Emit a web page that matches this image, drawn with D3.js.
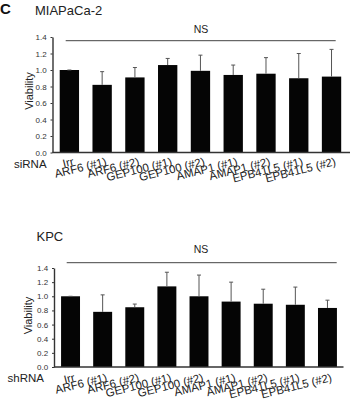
<!DOCTYPE html>
<html>
<head>
<meta charset="utf-8">
<script src="https://cdn.jsdelivr.net/npm/d3@7"></script>
<style>
  body { margin: 0; background: #fff; }
  svg { display: block; font-family: "Liberation Sans", Arial, sans-serif; }
</style>
</head>
<body>
<svg width="350" height="419"></svg>
<script>
const categories = ["Irr", "ARF6 (#1)", "ARF6 (#2)", "GEP100 (#1)", "GEP100 (#2)",
                    "AMAP1 (#1)", "AMAP1 (#2)", "EPB41L5 (#1)", "EPB41L5 (#2)"]
const yTicks = [0, 0.2, 0.4, 0.6, 0.8, 1.0, 1.2, 1.4]

// MIAPaCa-2 (siRNA)
const miaMean = [1.00, 0.82, 0.91, 1.06, 0.99, 0.94, 0.955, 0.90, 0.92]
const miaErr  = [0.00, 0.16, 0.12, 0.08, 0.19, 0.12, 0.195, 0.30, 0.33]
// KPC (shRNA)
const kpcMean = [1.00, 0.78, 0.845, 1.14, 1.00, 0.925, 0.895, 0.88, 0.835]
const kpcErr  = [0.00, 0.24, 0.045, 0.20, 0.30, 0.275, 0.205, 0.25, 0.11]

const svg = d3.select("svg")

// panel letter
svg.append("text").attr("x", 0).attr("y", 14)
   .attr("font-size", 15).attr("font-weight", "bold").attr("fill", "#111").text("C")

function panel(opt){
    const g = svg.append("g")
    const x = d3.scaleBand().domain(categories).range([opt.left, opt.right])
                .paddingInner(0.41).paddingOuter(0.22)
    const y = d3.scaleLinear().domain([0, 1.4]).range([opt.bottom, opt.top])

    g.append("text").attr("x", opt.titleX).attr("y", opt.titleY)
     .attr("font-size", 13).attr("fill", "#222").text(opt.title)

    // bars
    g.append("g").selectAll("rect").data(opt.mean).enter().append("rect")
     .attr("x", (d, i) => x(categories[i]))
     .attr("width", x.bandwidth())
     .attr("y", d => y(d))
     .attr("height", d => y(0) - y(d))
     .attr("fill", "#050505")

    // error bars, upper half only
    const eb = g.append("g").attr("stroke", "#555").attr("stroke-width", 1)
    opt.mean.forEach(function(m, i){
        const cx = x(categories[i]) + x.bandwidth() / 2
        const top = y(m + opt.err[i])
        eb.append("line").attr("x1", cx).attr("x2", cx).attr("y1", y(m)).attr("y2", top)
        eb.append("line").attr("x1", cx - 2).attr("x2", cx + 2).attr("y1", top).attr("y2", top)
    })

    const ya = g.append("g").attr("transform", "translate(" + opt.left + ",0)")
                .call(d3.axisLeft(y).tickValues(yTicks).tickFormat(d3.format(".1f")).tickSize(2).tickSizeOuter(0))
    ya.select(".domain").attr("stroke", "#333").attr("stroke-width", 1.4)
    ya.selectAll(".tick line").attr("stroke", "#333")
    ya.selectAll(".tick text").attr("font-size", 8).attr("fill", "#333")
      .attr("font-family", "Liberation Sans, Arial, sans-serif").attr("dx", "-0.1em")

    g.append("line").attr("x1", opt.left).attr("x2", opt.axisEnd)
     .attr("y1", y(0)).attr("y2", y(0)).attr("stroke", "#333").attr("stroke-width", 1.6)

    // x labels
    g.append("g").selectAll("text").data(categories).enter().append("text")
     .attr("transform", d => "translate(" + (x(d) + x.bandwidth() / 2 + 5) + "," + (y(0) + opt.labelDy) + ") rotate(-14)")
     .attr("text-anchor", "end").attr("font-size", 11.5).attr("fill", "#222")
     .text(d => d)

    g.append("text").attr("x", opt.rnaX).attr("y", y(0) + opt.rnaDy)
     .attr("font-size", 11.5).attr("fill", "#222").text(opt.rna)

    g.append("text")
     .attr("transform", "translate(" + opt.ylabX + "," + opt.ylabY + ") rotate(-90)")
     .attr("text-anchor", "middle").attr("font-size", 11).attr("fill", "#222").text("Viability")

    // NS bracket
    g.append("line").attr("x1", opt.nsX1).attr("x2", opt.nsX2)
     .attr("y1", opt.nsY).attr("y2", opt.nsY).attr("stroke", "#444").attr("stroke-width", 1)
    g.append("text").attr("x", 201).attr("y", opt.nsY - opt.nsGap)
     .attr("text-anchor", "middle").attr("font-size", 10.5).attr("fill", "#222").text("NS")
}

panel({title: "MIAPaCa-2", titleX: 35, titleY: 15, rna: "siRNA", rnaX: 14, rnaDy: 15,
       mean: miaMean, err: miaErr, left: 52.5, right: 348.4, axisEnd: 350, top: 37, bottom: 152.5,
       labelDy: 12.5, ylabX: 33, ylabY: 91, nsX1: 65.7, nsX2: 335.7, nsY: 40.7, nsGap: 8})

panel({title: "KPC", titleX: 36.5, titleY: 240.7, rna: "shRNA", rnaX: 7.5, rnaDy: 14.5,
       mean: kpcMean, err: kpcErr, left: 54, right: 344, axisEnd: 343.5, top: 268, bottom: 367,
       labelDy: 14, ylabX: 32, ylabY: 315.5, nsX1: 66.7, nsX2: 336.7, nsY: 262.7, nsGap: 10})
</script>
</body>
</html>
